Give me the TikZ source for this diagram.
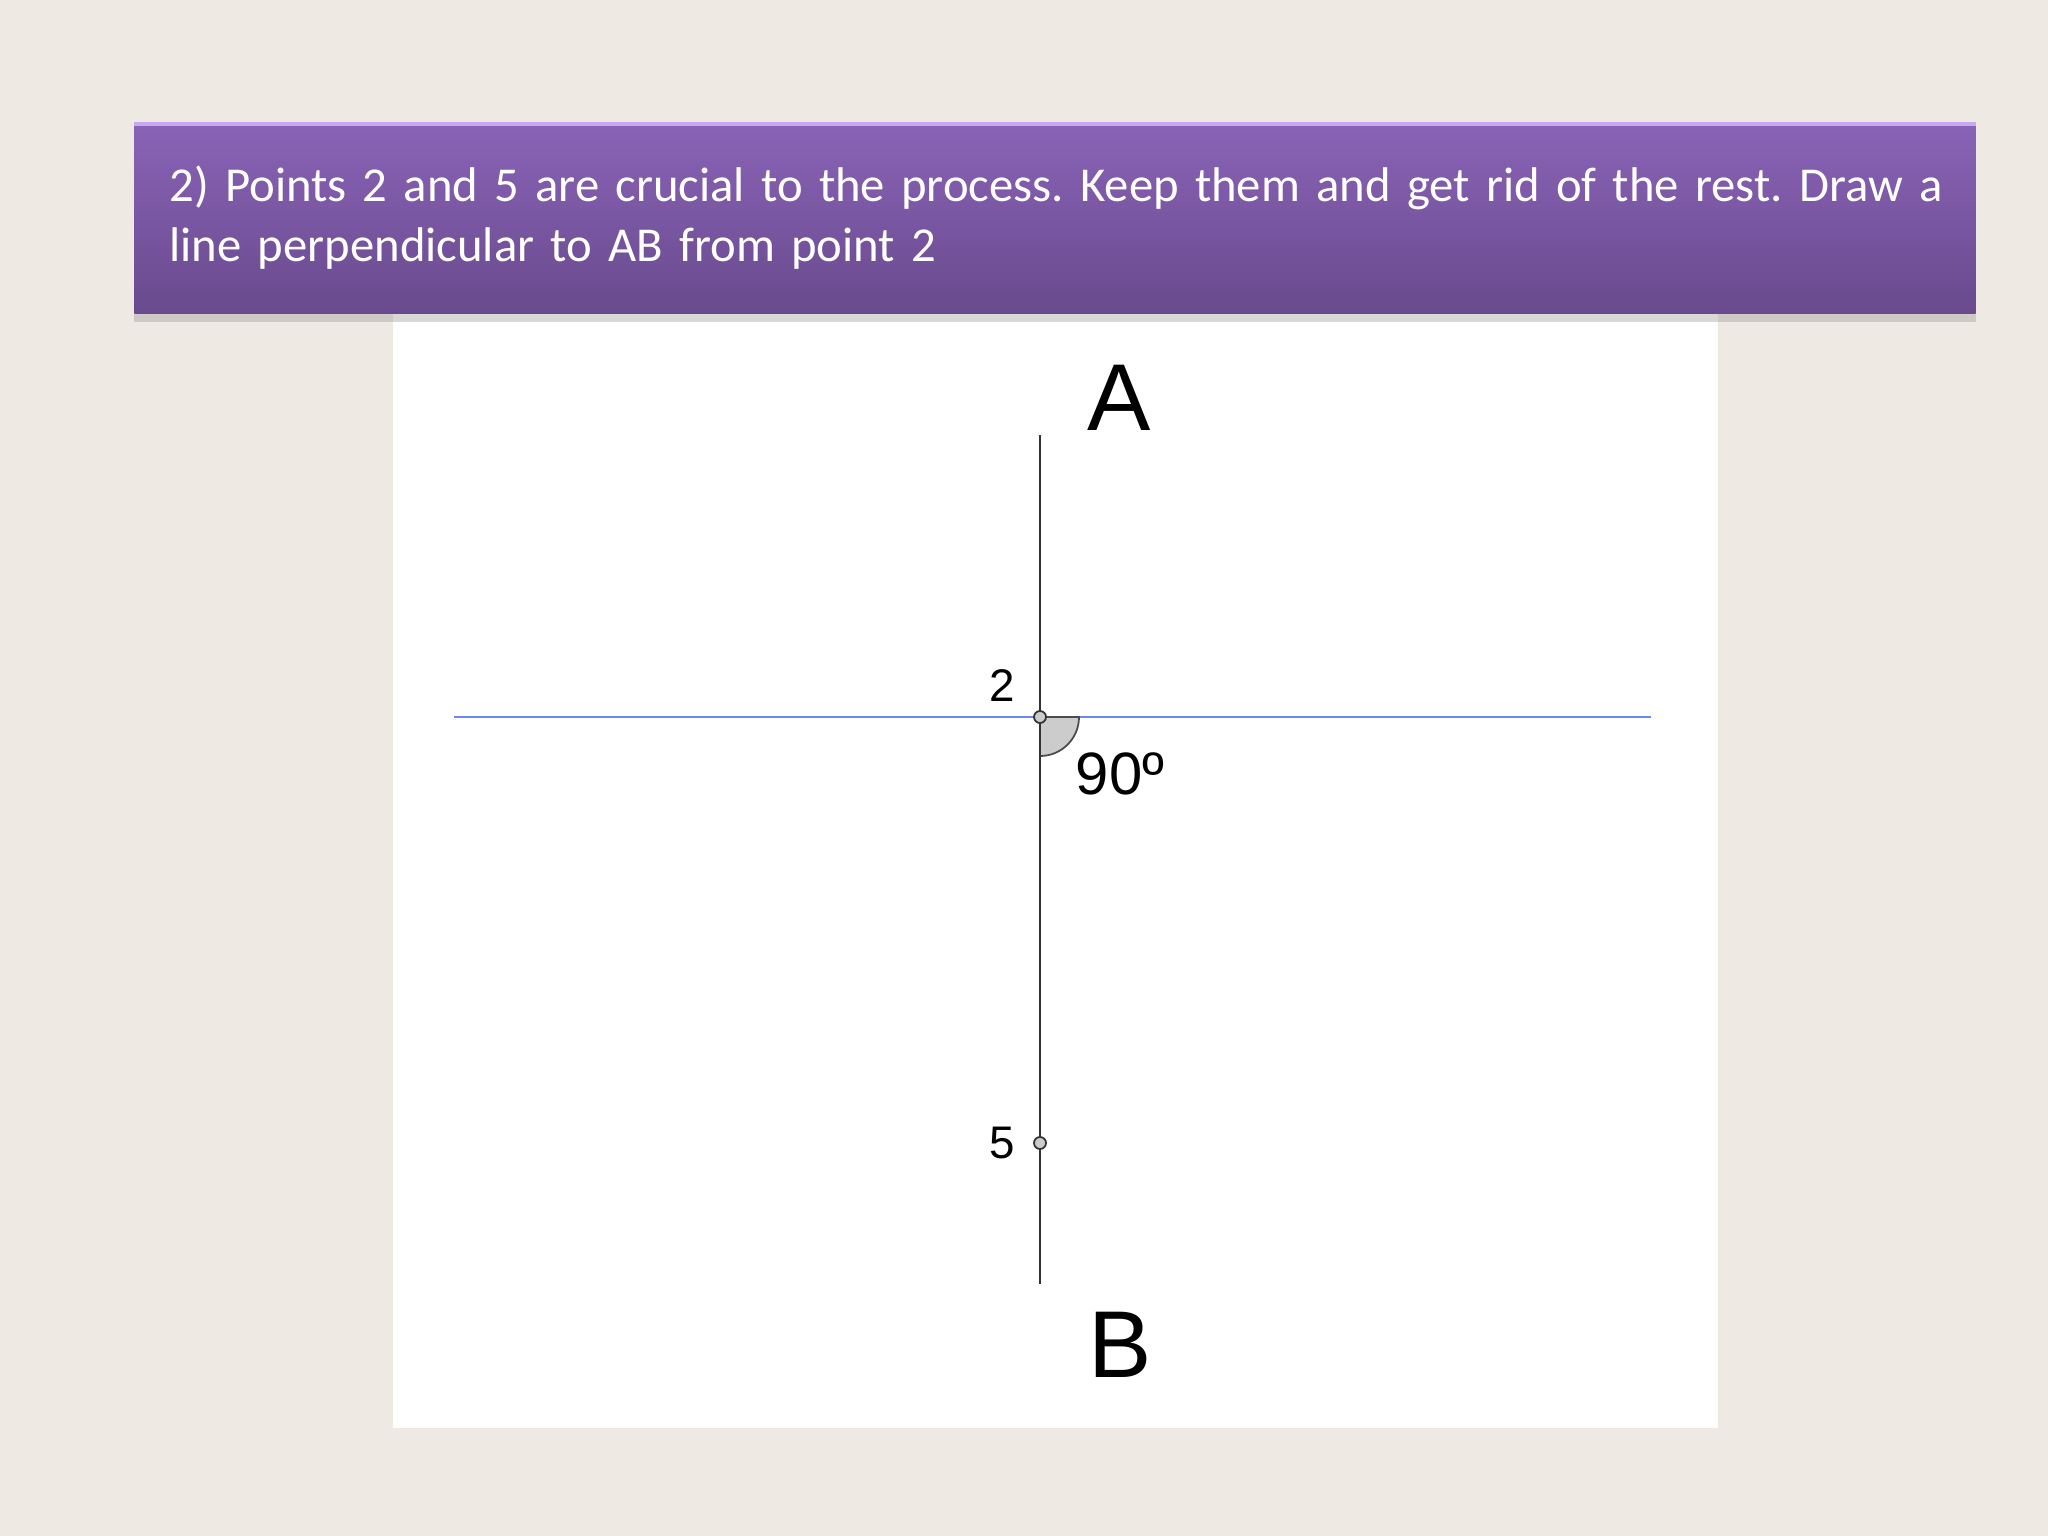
\documentclass[tikz,border=0pt]{standalone}
\usepackage{fontspec}
\setmainfont{Carlito}
\newfontfamily\labelfont{Liberation Sans}
\usetikzlibrary{positioning,shadows}

\definecolor{pagebg}{HTML}{EFE9E3}
\definecolor{bannertop}{HTML}{8A63B7}
\definecolor{bannerbot}{HTML}{694A8D}
\definecolor{bannerrim}{HTML}{C8A8F0}
\definecolor{lineblue}{HTML}{6B8CE6}
\definecolor{pointgray}{HTML}{CCCCCC}

\begin{document}
\begin{tikzpicture}[x=0.01cm, y=-0.01cm]
    % Define the styles for each element
    \tikzstyle{banner} = [rectangle, minimum width=18.4cm, minimum height=1.91cm, text width=17.7cm, align=left,
        top color=bannertop, bottom color=bannerbot, text=white, inner xsep=0.35cm,
        drop shadow={shadow xshift=0pt, shadow yshift=-2.5pt, opacity=0.3},
        font=\fontsize{13.85}{17.1}\selectfont\frenchspacing]
    \tikzstyle{point} = [circle, draw=black!80, fill=pointgray, line width=0.5pt, minimum size=0.12cm, inner sep=0pt]
    \tikzstyle{ptlabel} = [font=\labelfont\fontsize{13}{15}\selectfont, inner sep=0pt]
    \tikzstyle{endlabel} = [font=\labelfont\fontsize{27}{30}\selectfont, inner sep=0pt]

    % Page and drawing area
    \fill [pagebg] (0,0) rectangle (2048,1536);
    \useasboundingbox (0,0) rectangle (2048,1536);
    \fill [white] (393,312) rectangle (1718,1428);

    % Title banner
    \node [banner] (title) at (1055,218) {%
        \mbox{2) Points 2 and 5 are crucial to the process. Keep them and get rid of the rest. Draw a}\\
        line perpendicular to AB from point 2};
    \draw [bannerrim, line width=1.2pt] ([yshift=-0.6pt]title.north west) -- ([yshift=-0.6pt]title.north east);

    % Ends of the lines
    \coordinate (top) at (1040,435);
    \coordinate (bottom) at (1040,1284);
    \coordinate (left) at (454,717);
    \coordinate (right) at (1651,717);

    % Draw the lines
    \draw [lineblue, line width=0.7pt] (left) -- (right);
    \draw [black!80, line width=0.8pt] (top) -- (bottom);

    % Right angle mark
    \coordinate (p2c) at (1040,717);
    \filldraw [fill=pointgray, draw=black!70, line width=0.5pt] (p2c) -- ++(39,0) arc [start angle=0, end angle=90, radius=39] -- cycle;
    \draw [black!80, line width=0.8pt] (p2c) -- ++(0,45);

    % Create the nodes for the points
    \node [point] (p2) at (p2c) {};
    \node [point] (p5) at (1040,1143) {};

    % Add the labels
    \node [font=\labelfont\fontsize{17}{19}\selectfont, inner sep=0pt] (angle) at (1120,774) {90º};
    \node [ptlabel] (lab2) at (1002,686) {2};
    \node [ptlabel] (lab5) at (1002,1143) {5};
    \node [endlabel] (labA) at (1119,398) {A};
    \node [endlabel] (labB) at (1120,1345) {B};
\end{tikzpicture}
\end{document}
